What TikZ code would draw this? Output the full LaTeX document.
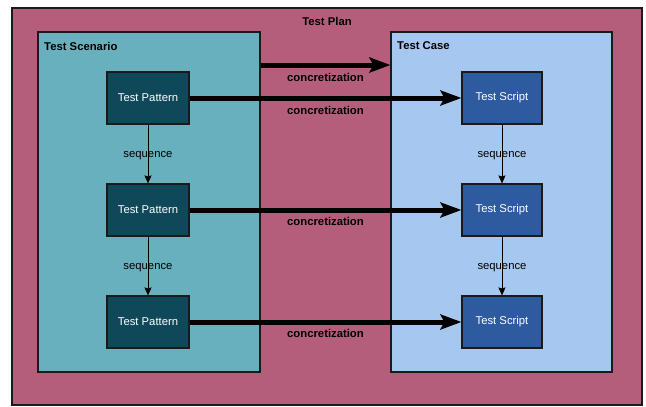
\documentclass[tikz,border=0pt]{standalone}
\usepackage{fontspec}
\setmainfont{Liberation Sans}
\usetikzlibrary{arrows.meta}
\definecolor{planfill}{HTML}{B45E7C}
\definecolor{scenfill}{HTML}{68B0BE}
\definecolor{patfill}{HTML}{0F4858}
\definecolor{casefill}{HTML}{A6C8F0}
\definecolor{scrfill}{HTML}{2E5AA0}
\definecolor{edge}{HTML}{1A1A1A}
\tikzset{
  box/.style={draw=edge, line width=1.1pt, inner sep=0pt},
  patbox/.style={box, fill=patfill, text=white, minimum width=82pt, minimum height=52pt},
  scrbox/.style={box, fill=scrfill, text=white, minimum width=80pt, minimum height=52pt},
  title/.style={font=\fontsize{11.3}{13}\selectfont\bfseries, inner sep=0pt},
  biglink/.style={line width=5pt, -{Stealth[length=21pt,width=15pt,inset=4pt]}},
  seqlink/.style={line width=1pt, -{Stealth[length=8pt,width=7pt,inset=1pt]}},
  clabel/.style={font=\fontsize{11.3}{13}\selectfont\bfseries, inner sep=0pt},
  slabel/.style={inner sep=0pt, yshift=-2pt}
}
\begin{document}
\begin{tikzpicture}[x=1pt,y=-1pt,font=\fontsize{11.3}{13}\selectfont]
\useasboundingbox[fill=white] (0,0) rectangle (646,407);
\node[box, fill=planfill, minimum width=630pt, minimum height=397pt] (plan) at (327,206.5) {};
\node[title] (plant) at (327,21) {Test Plan};
\node[box, fill=scenfill, minimum width=222pt, minimum height=340pt] (scen) at (149,202) {};
\node[title, anchor=west] (scent) at (44,46) {Test Scenario};
\node[box, fill=casefill, minimum width=221pt, minimum height=340pt] (case) at (501.5,202) {};
\node[title, anchor=west] (caset) at (397,46) {Test Case};

\node[patbox] (p1) at (148,98) {Test Pattern};
\node[patbox] (p2) at (148,210) {Test Pattern};
\node[patbox] (p3) at (148,322) {Test Pattern};
\node[scrbox] (s1) at (502,98) {Test Script};
\node[scrbox] (s2) at (502,210) {Test Script};
\node[scrbox] (s3) at (502,322) {Test Script};

\coordinate (toprow) at (0,65);
\draw[biglink] (scen.east |- toprow) -- (case.west |- toprow)
  node[midway, yshift=-12pt, clabel] {concretization};
\draw[biglink] (p1) -- (s1) node[midway, yshift=-12pt, clabel] {concretization};
\draw[biglink] (p2) -- (s2) node[midway, yshift=-11pt, clabel] {concretization};
\draw[biglink] (p3) -- (s3) node[midway, yshift=-11pt, clabel] {concretization};

\draw[seqlink] (p1) -- (p2) node[midway, slabel] {sequence};
\draw[seqlink] (p2) -- (p3) node[midway, slabel] {sequence};
\draw[seqlink] (s1) -- (s2) node[midway, slabel] {sequence};
\draw[seqlink] (s2) -- (s3) node[midway, slabel] {sequence};
\end{tikzpicture}
\end{document}
